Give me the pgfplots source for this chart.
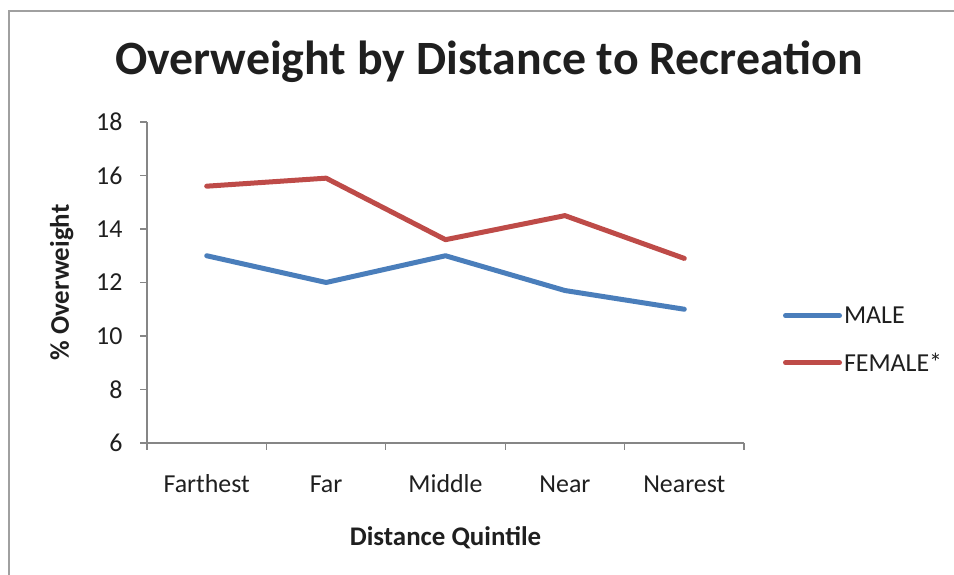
\documentclass[border=0pt]{standalone}
\usepackage{fontspec}
\setmainfont{Carlito}
\usepackage{pgfplots}
\pgfplotsset{compat=1.18}

\definecolor{maleblue}{RGB}{74,126,187}
\definecolor{femalered}{RGB}{190,75,72}
\definecolor{axisgray}{RGB}{134,134,134}
\definecolor{framegray}{RGB}{160,160,160}

\begin{document}
\begin{tikzpicture}[x=1bp,y=1bp]
\useasboundingbox (0,0) rectangle (954,575);
% outer chart frame
\draw[framegray,line width=2bp] (9,-10) -- (9,564) -- (970,564);
% title
\node[font=\fontsize{48}{56}\selectfont\bfseries, text=black!88] at (489,513) {Overweight by Distance to Recreation};
\begin{axis}[
  at={(147bp,132bp)}, anchor=south west,
  scale only axis, width=597bp, height=321bp,
  xmin=0, xmax=5, ymin=6, ymax=18,
  xtick={0,1,2,3,4,5}, xticklabels={},
  extra x ticks={0.5,1.5,2.5,3.5,4.5},
  extra x tick labels={Farthest,Far,Middle,Near,Nearest},
  extra x tick style={major tick length=0pt,
    tick label style={anchor=base, yshift=-50bp}},
  ytick={6,8,...,18},
  yticklabel style={xshift=-14bp},
  axis x line=bottom, axis y line=left,
  axis line style={axisgray, line width=1.3bp, -},
  major tick length=7bp,
  tick style={axisgray, line width=1.3bp},
  xtick pos=bottom, ytick pos=left,
  tick align=outside,
  ticklabel style={font=\fontsize{26}{30}\selectfont, text=black!88},
  /pgf/number format/assume math mode=true,
  xlabel={Distance Quintile}, ylabel={\% Overweight},
  label style={font=\fontsize{27}{31}\selectfont\bfseries, text=black!88},
  xlabel style={at={(axis description cs:0.5,0)}, anchor=base, yshift=-103bp},
  ylabel style={yshift=16bp},
  legend style={at={(1.065,0.322)}, anchor=west, draw=none, fill=none,
    font=\fontsize{26}{30}\selectfont, text=black!88, row sep=24bp,
    inner sep=0pt, nodes={inner sep=2bp}},
  legend cell align=left,
  legend image code/.code={\draw[#1,line width=5bp,line cap=round] (0bp,0bp) -- (54bp,0bp);},
  clip=false,
]
\addplot[maleblue, line width=5bp, line cap=round, line join=round] coordinates {
  (0.5,13.0) (1.5,12.0) (2.5,13.0) (3.5,11.7) (4.5,11.0)};
\addlegendentry{MALE}
\addplot[femalered, line width=5bp, line cap=round, line join=round] coordinates {
  (0.5,15.6) (1.5,15.9) (2.5,13.6) (3.5,14.5) (4.5,12.9)};
\addlegendentry{FEMALE*}
\end{axis}
\end{tikzpicture}
\end{document}
